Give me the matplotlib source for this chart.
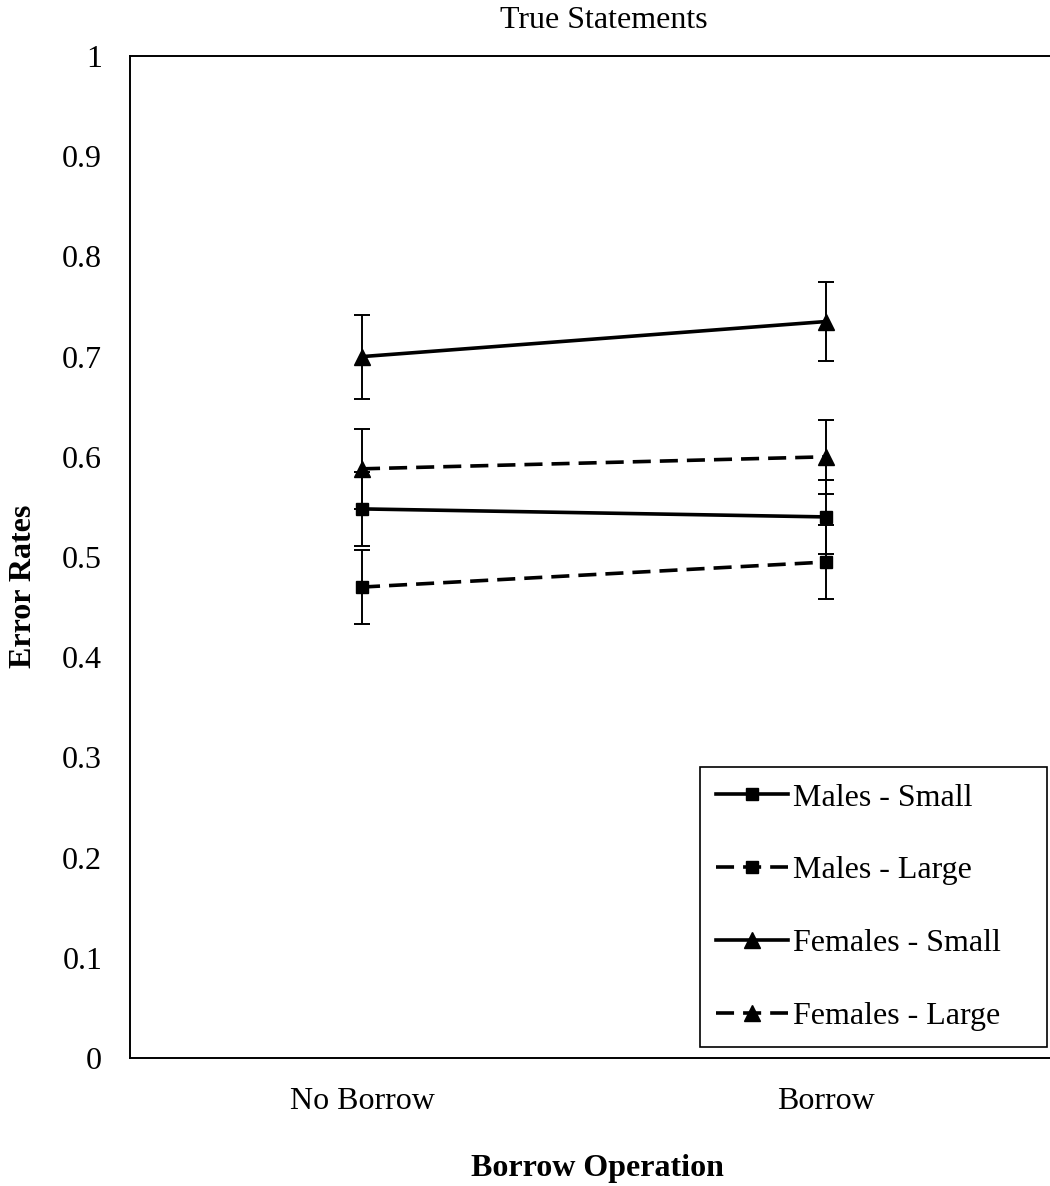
import matplotlib
matplotlib.use('Agg')
import matplotlib.pyplot as plt
import numpy as np

plt.rcParams['font.family'] = ['Liberation Serif', 'DejaVu Serif']

# condition labels along the x axis
conditions = ['No Borrow', 'Borrow']

# mean error rates per group, one value per condition
males_small = [0.548, 0.540]
males_large = [0.470, 0.495]
females_small = [0.700, 0.735]
females_large = [0.588, 0.600]

# standard errors
males_small_se = [0.037, 0.037]
males_large_se = [0.037, 0.037]
females_small_se = [0.042, 0.039]
females_large_se = [0.040, 0.037]

yticks = [0, 0.1, 0.2, 0.3, 0.4, 0.5, 0.6, 0.7, 0.8, 0.9, 1]
ytick_labels = ['0', '0.1', '0.2', '0.3', '0.4', '0.5', '0.6', '0.7', '0.8', '0.9', '1']

W, H = 1050, 1186
fs = 23

fig = plt.figure(figsize=(W / 100, H / 100), dpi=100)
# plot area runs a little past the right edge of the figure
ax = fig.add_axes([130 / W, 128 / H, 928 / W, 1002 / H])

x = np.arange(len(conditions)) + 0.5
dash = (0, (5, 2.5))

series = [
    ('Males - Small', males_small, males_small_se, '-', 's'),
    ('Males - Large', males_large, males_large_se, dash, 's'),
    ('Females - Small', females_small, females_small_se, '-', '^'),
    ('Females - Large', females_large, females_large_se, dash, '^'),
]

for label, vals, se, ls, mk in series:
    ax.errorbar(x, vals, yerr=se, color='black', ecolor='black', elinewidth=1.4,
                capsize=5.8, capthick=1.4, fmt='none', zorder=2)
    ax.plot(x, vals, color='black', linestyle=ls, linewidth=2.6, marker=mk,
            markersize=9 if mk == 's' else 11, label=label, zorder=3)

ax.set_xlim(0, 2)
ax.set_ylim(0, 1)
ax.set_xticks(x)
ax.set_xticklabels(conditions, fontsize=fs)
ax.set_yticks(yticks)
ax.set_yticklabels(ytick_labels, fontsize=fs)
ax.tick_params(length=0)
ax.tick_params(axis='x', pad=21)
ax.tick_params(axis='y', pad=20)

for side in ['top', 'left', 'bottom', 'right']:
    ax.spines[side].set_linewidth(1.4)

fig.text(604 / W, 1 - 21 / H, 'True Statements', fontsize=fs, ha='center', va='center')
fig.text(24 / W, 1 - 586 / H, 'Error Rates', fontsize=fs, fontweight='bold',
         rotation=90, ha='center', va='center')
fig.text(597 / W, 1 - 1176 / H, 'Borrow Operation', fontsize=fs, fontweight='bold',
         ha='center', va='baseline')

# legend box stretched to a fixed width in the lower right corner
leg = ax.legend(loc='lower left', bbox_to_anchor=(0.6142, 0.011, 0.3739, 0.0),
                mode='expand', fontsize=fs,
                fancybox=False, framealpha=1, edgecolor='black', numpoints=1,
                handlelength=2.26, handletextpad=0.15, labelspacing=1.36,
                borderpad=0.5, borderaxespad=0)
leg.get_frame().set_linewidth(1.2)

fig.savefig('out.png', dpi=100)
